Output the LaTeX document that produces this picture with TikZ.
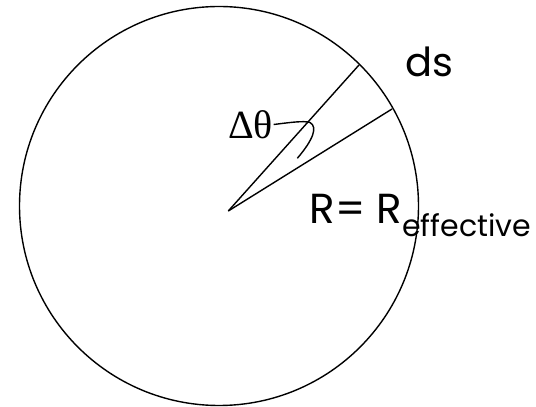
\documentclass[tikz,border=0pt]{standalone}
\usepackage{fontspec}
\setmainfont{Liberation Serif}
\newfontfamily\handfont{Poppins}
\usepackage{tikz}

\begin{document}
\begin{tikzpicture}[x=1pt, y=1pt, line width=1.4pt,
    hand/.style={inner sep=0pt, anchor=base west, font=\handfont\fontsize{40}{40}\selectfont}]
  \useasboundingbox (0,0) rectangle (536,407);
  % circle and the two radii
  \coordinate (c) at (219,201);
  \draw (c) circle (199.5);
  \coordinate (o) at (228.3,196);
  \coordinate (a) at (359,342);
  \coordinate (b) at (392,298);
  \draw (o) -- (a);
  \draw (o) -- (b);
  % labels
  \node[inner sep=0pt, anchor=base west, font=\fontsize{40}{40}\selectfont] (dtheta) at (227.3,268.7) {Δθ};
  \node[hand] (ds) at (405,330.3) {ds};
  \node[hand, font=\handfont\fontsize{42}{42}\selectfont] (reff) at (309,183.7)
    {R= R\raisebox{-13.3pt}{\fontsize{30}{30}\selectfont effective}};
  % hook from the angle label
  \coordinate (tip) at (297.3,248.7);
  \draw (dtheta.east) .. controls (290,284.5) and (304,286.5) .. (310,284.5)
    .. controls (318,280) and (313,267) .. (tip);
\end{tikzpicture}
\end{document}
